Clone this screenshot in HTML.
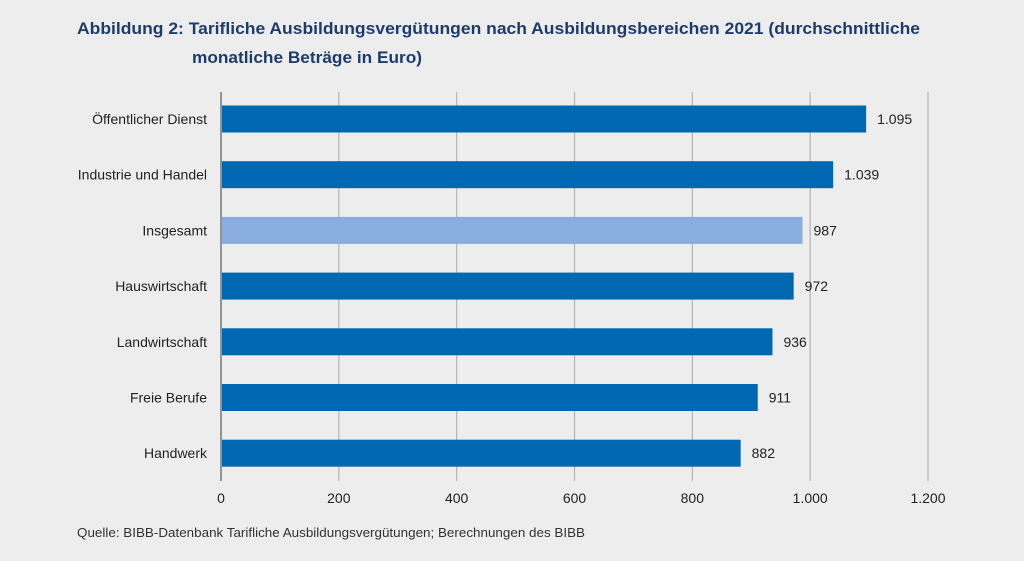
<!DOCTYPE html>
<html><head><meta charset="utf-8"><style>
body{margin:0;background:#ededed;}
svg{display:block;font-family:"Liberation Sans",sans-serif;}
</style></head><body>
<svg width="1024" height="561" viewBox="0 0 1024 561">
<rect width="1024" height="561" fill="#ededed"/>
<text x="77" y="34" font-size="17" font-weight="bold" fill="#1d3c6e" textLength="843" lengthAdjust="spacingAndGlyphs">Abbildung 2: Tarifliche Ausbildungsvergütungen nach Ausbildungsbereichen 2021 (durchschnittliche</text>
<text x="192" y="63" font-size="17" font-weight="bold" fill="#1d3c6e" textLength="230" lengthAdjust="spacingAndGlyphs">monatliche Beträge in Euro)</text>
<g id="grid"></g><g id="bars"></g>
<text x="77" y="537" font-size="13" fill="#333" textLength="508" lengthAdjust="spacingAndGlyphs">Quelle: BIBB-Datenbank Tarifliche Ausbildungsvergütungen; Berechnungen des BIBB</text>
</svg>
<script>
const categories=["Öffentlicher Dienst","Industrie und Handel","Insgesamt","Hauswirtschaft","Landwirtschaft","Freie Berufe","Handwerk"];
const values=[1095,1039,987,972,936,911,882];
const valueLabels=["1.095","1.039","987","972","936","911","882"];
const ticks=[0,200,400,600,800,1000,1200];
const tickLabels=["0","200","400","600","800","1.000","1.200"];
const highlight=[false,false,true,false,false,false,false];
const NS="http://www.w3.org/2000/svg";
const x=v=>221+v*(928-221)/1200;
const y=i=>119+i*55.7;
function mk(t,a,p,txt){const e=document.createElementNS(NS,t);for(const k in a)e.setAttribute(k,a[k]);if(txt!==undefined)e.textContent=txt;p.appendChild(e);return e;}
const g=document.getElementById('grid'),b=document.getElementById('bars');
ticks.forEach((t,i)=>{
 const l=mk('line',{x1:x(t),x2:x(t),y1:92,y2:481,stroke:i==0?'#777':'#b3b3b3','stroke-width':i==0?1.5:1.2},g);
 
 
 const tx=mk('text',{x:x(t),y:503,'font-size':14,fill:'#222','text-anchor':'middle'},g,tickLabels[i]);
 
 
});
categories.forEach((c,i)=>{
 const r=mk('rect',{x:x(0)+1,y:y(i)-13.5,width:x(values[i])-x(0)-1,height:27,fill:highlight[i]?'#8aaddf':'#0067b2'},b);
 
 
 const lb=mk('text',{x:207,y:y(i)+5,'font-size':14,fill:'#222','text-anchor':'end'},b,c);
 
 
 const vl=mk('text',{x:x(values[i])+11,y:y(i)+5,'font-size':14,fill:'#222'},b,valueLabels[i]);
 
 
});
</script>
</body></html>
